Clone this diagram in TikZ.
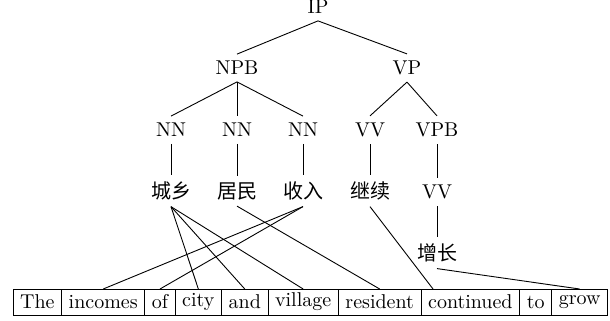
\documentclass[tikz,border=0pt]{standalone}
\usepackage{fontspec}
\newfontfamily\cjk{Noto Sans CJK SC}
\begin{document}
\begin{tikzpicture}[x=0.5pt,y=-0.5pt,
  tn/.style={inner sep=3.33pt},
  zh/.style={font=\cjk, inner sep=3pt},
  word/.style={draw, minimum height=13pt, inner ysep=1pt, inner xsep=3.55pt, outer sep=0pt, anchor=west},
  link/.style={line width=0.45pt}]
\useasboundingbox (0,0) rectangle (610,321);
% tree
\node[tn] (ip)  at (318,7)   {IP};
\node[tn] (npb) at (237,68)  {NPB};
\node[tn] (vp)  at (407,68)  {VP};
\node[tn] (nn1) at (171,130) {NN};
\node[tn] (nn2) at (237,130) {NN};
\node[tn] (nn3) at (303,130) {NN};
\node[tn] (vv1) at (370,130) {VV};
\node[tn] (vpb) at (437,130) {VPB};
\node[zh] (c1) at (171,191) {城乡};
\node[zh] (c2) at (237,191) {居民};
\node[zh] (c3) at (303,191) {收入};
\node[zh] (c4) at (370,191) {继续};
\node[tn] (vv2) at (437,192) {VV};
\node[zh] (c5) at (437,253) {增长};
\draw[link] (ip.south) -- (npb.north);
\draw[link] (ip.south) -- (vp.north);
\draw[link] (npb.south) -- (nn1.north);
\draw[link] (npb.south) -- (nn2.north);
\draw[link] (npb.south) -- (nn3.north);
\draw[link] (vp.south) -- (vv1.north);
\draw[link] (vp.south) -- (vpb.north);
\draw[link] (nn1.south) -- (c1.north);
\draw[link] (nn2.south) -- (c2.north);
\draw[link] (nn3.south) -- (c3.north);
\draw[link] (vv1.south) -- (c4.north);
\draw[link] (vpb.south) -- (vv2.north);
\draw[link] (vv2.south) -- (c5.north);
% words
\node[word] (w1) at (13,302) {The};
\node[word] (w2) at (w1.east) {incomes};
\node[word] (w3) at (w2.east) {of};
\node[word] (w4) at (w3.east) {city};
\node[word] (w5) at (w4.east) {and};
\node[word] (w6) at (w5.east) {village};
\node[word] (w7) at (w6.east) {resident};
\node[word] (w8) at (w7.east) {continued};
\node[word] (w9) at (w8.east) {to};
\node[word] (w10) at (w9.east) {grow};
% alignments
\draw[link] (c1.south) -- (w4.north);
\draw[link] (c1.south) -- (w5.north);
\draw[link] (c1.south) -- (w6.north);
\draw[link] (c2.south) -- (w7.north);
\draw[link] (c3.south) -- (w2.north);
\draw[link] (c3.south) -- (w3.north);
\draw[link] (c4.south) -- ([xshift=6pt]w8.north west);
\draw[link] (c5.south) -- (w10.north);
\end{tikzpicture}
\end{document}
